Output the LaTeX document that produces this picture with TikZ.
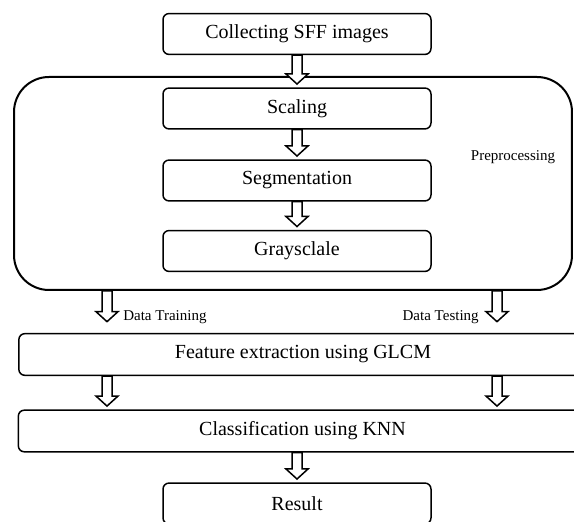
\documentclass[tikz,border=0pt]{standalone}
\usepackage{fontspec}
\setmainfont{Liberation Serif}
\usetikzlibrary{calc}
\tikzset{
  stepbox/.style={draw, rounded corners=3.6pt, line width=0.9pt, minimum width=160.8pt, minimum height=24.5pt, font=\fontsize{12}{14}\selectfont},
  widebox/.style={stepbox, minimum width=341pt, minimum height=25pt},
  bigbox/.style={draw, rounded corners=21pt, line width=1.2pt, minimum width=334.8pt, minimum height=127.8pt},
  smalltext/.style={font=\fontsize{9}{11}\selectfont, inner sep=0pt},
  hollow/.style={fill=white, line width=0.9pt, line join=miter, to path={let \p1=(\tikztostart), \p2=(\tikztotarget) in (\x1-3pt,\y1) -- (\x1-3pt,\y2+8pt) -- (\x1-6.6pt,\y2+8pt) -- (\x1,\y2+2pt) -- (\x1+6.6pt,\y2+8pt) -- (\x1+3pt,\y2+8pt) -- (\x1+3pt,\y1) -- cycle}}
}
\begin{document}
\begin{tikzpicture}[x=0.6pt,y=-0.6pt]
\useasboundingbox (0,0) rectangle (574,522);
\clip (0,0) rectangle (574,522);
\node[bigbox] (pre) at (293,183.5) {};
\node[smalltext] (prelbl) at (513,157) {Preprocessing};
\node[stepbox] (collect) at (297,34) {Collecting SFF images};
\node[stepbox] (scal) at (297,108.5) {Scaling};
\node[stepbox] (seg) at (297,180.5) {Segmentation};
\node[stepbox] (gray) at (297,251) {Graysclale};
\node[widebox] (feat) at (303,354.5) {Feature extraction using GLCM};
\node[widebox] (cls) at (302.5,431) {Classification using KNN};
\node[stepbox] (res) at (297,503.5) {Result};
\coordinate (tr) at (107,325);
\coordinate (te) at (497,325);
\node[smalltext, anchor=west] (trlbl) at (123,317) {Data Training};
\node[smalltext, anchor=east] (telbl) at (479,317) {Data Testing};
\draw[hollow] (collect.south) to (scal.north);
\draw[hollow] (scal.south) to (seg.north);
\draw[hollow] (seg.south) to (gray.north);
\draw[hollow] (pre.south -| tr) to (tr);
\draw[hollow] (pre.south -| te) to (te);
\draw[hollow] (feat.south -| tr) to (cls.north -| tr);
\draw[hollow] (feat.south -| te) to (cls.north -| te);
\draw[hollow] (cls.south -| res) to (res.north);
\end{tikzpicture}
\end{document}
